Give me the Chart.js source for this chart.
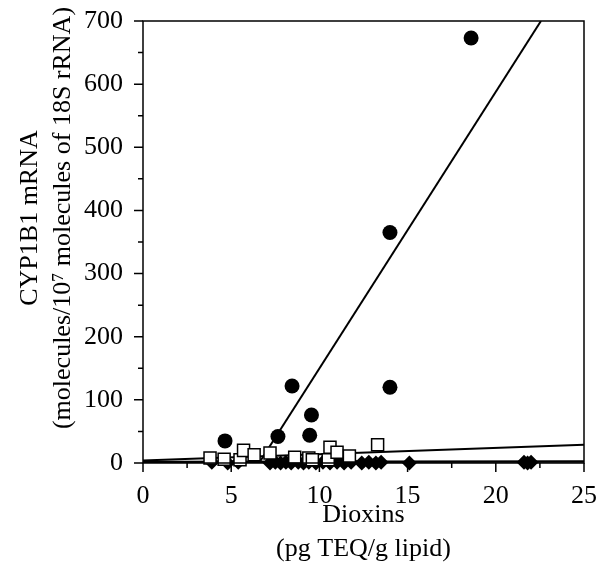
<!DOCTYPE html>
<html>
<head>
<meta charset="utf-8">
<script src="https://cdn.jsdelivr.net/npm/chart.js@4"></script>
<style>
  html, body { margin: 0; padding: 0; background: #fff; }
  canvas { display: block; }
</style>
</head>
<body>
<canvas id="cypChart" width="599" height="575"></canvas>
<script>
// filled circles
const circleX = [4.65, 7.65, 8.45, 9.45, 9.55, 14.0, 14.0, 18.6];
const circleY = [35, 42, 122, 44, 76, 120, 365, 673];
// open squares
const squareX = [3.8, 4.6, 5.5, 5.7, 6.3, 7.2, 8.6, 9.4, 9.6, 10.5, 10.6, 11.0, 11.7, 13.3];
const squareY = [8, 6, 5, 20, 13, 16, 9, 8, 5, 5, 25, 17, 11, 29];
// filled diamonds
const diamondX = [3.9, 4.8, 5.4, 7.2, 7.5, 7.8, 8.1, 8.4, 8.8, 9.1, 9.4, 9.8, 10.2, 10.6, 11.0, 11.4, 11.8, 12.4, 12.8, 13.2, 13.5, 15.1, 21.6, 21.8, 22.0];
const diamondY = [1, 0, 1, 0, 1, 0, 1, 0, 1, 0, 1, 0, 1, 0, 1, 0, 1, 0, 1, 0, 1, 0, 1, 0, 1];
// regression lines (end points)
const circleFitX = [6.58, 22.56];
const circleFitY = [0, 700];
const squareFitX = [0, 25];
const squareFitY = [4, 29];
const diamondFitX = [0, 25];
const diamondFitY = [1.5, 2.5];
// axis ticks
const xMajorTicks = [0, 5, 10, 15, 20, 25];
const xMinorTicks = [2.5, 7.5, 12.5, 17.5, 22.5];
const yMajorTicks = [0, 100, 200, 300, 400, 500, 600, 700];
const yMinorTicks = [50, 150, 250, 350, 450, 550, 650];
const yTitle = ['CYP1B1 mRNA', '(molecules/10\u2077 molecules of 18S rRNA)'];
const xTitle = ['Dioxins', '(pg TEQ/g lipid)'];

function pts(xs, ys) {
    return xs.map((x, i) => ({ x: x, y: ys[i] }));
}

const serif = '"Liberation Serif", "Times New Roman", serif';

// frame, outward tick marks and the rotated y title
const frameTicks = {
    id: 'frameTicks',
    afterDatasetsDraw(chart) {
        const ctx = chart.ctx;
        const a = chart.chartArea;
        const xs = chart.scales.x, ys = chart.scales.y;
        ctx.save();
        ctx.strokeStyle = '#000';
        ctx.lineWidth = 1.5;
        ctx.strokeRect(a.left, a.top, a.right - a.left, a.bottom - a.top);
        ctx.beginPath();
        yMajorTicks.forEach(v => { const p = ys.getPixelForValue(v); ctx.moveTo(a.left - 9, p); ctx.lineTo(a.left, p); });
        yMinorTicks.forEach(v => { const p = ys.getPixelForValue(v); ctx.moveTo(a.left - 5, p); ctx.lineTo(a.left, p); });
        xMajorTicks.forEach(v => { const p = xs.getPixelForValue(v); ctx.moveTo(p, a.bottom); ctx.lineTo(p, a.bottom + 9); });
        xMinorTicks.forEach(v => { const p = xs.getPixelForValue(v); ctx.moveTo(p, a.bottom); ctx.lineTo(p, a.bottom + 5); });
        ctx.stroke();

        ctx.fillStyle = '#000';
        ctx.font = '26px ' + serif;
        ctx.textAlign = 'center';
        ctx.textBaseline = 'middle';
        yTitle.forEach((line, i) => {
            ctx.save();
            ctx.translate(30 + i * 33, 218);
            ctx.rotate(-Math.PI / 2);
            ctx.fillText(line, 0, 0);
            ctx.restore();
        });
        ctx.restore();
    }
};

function draw() {
    new Chart(document.getElementById('cypChart').getContext('2d'), {
        type: 'scatter',
        data: {
            datasets: [
                { data: pts(circleX, circleY), pointStyle: 'circle', pointRadius: 7.5, backgroundColor: '#000', borderWidth: 0, clip: false },
                { data: pts(squareX, squareY), pointStyle: 'rect', pointRadius: 8.5, backgroundColor: '#fff', borderColor: '#000', borderWidth: 1.5, clip: false },
                { data: pts(diamondX, diamondY), pointStyle: 'rectRot', pointRadius: 7.5, backgroundColor: '#000', borderColor: '#000', borderWidth: 0, clip: false },
                { data: pts(circleFitX, circleFitY), showLine: true, pointRadius: 0, borderColor: '#000', borderWidth: 2 },
                { data: pts(squareFitX, squareFitY), showLine: true, pointRadius: 0, borderColor: '#000', borderWidth: 2 },
                { data: pts(diamondFitX, diamondFitY), showLine: true, pointRadius: 0, borderColor: '#000', borderWidth: 2.5 }
            ]
        },
        options: {
            responsive: false,
            animation: false,
            devicePixelRatio: 1,
            layout: { padding: { left: 0, top: 21, right: 15, bottom: 0 } },
            plugins: { legend: { display: false }, tooltip: { enabled: false } },
            scales: {
                x: {
                    type: 'linear', min: 0, max: 25,
                    afterFit: s => { s.height = 112; s.paddingLeft = 0; s.paddingRight = 0; },
                    afterBuildTicks: s => { s.ticks = xMajorTicks.map(v => ({ value: v })); },
                    grid: { display: false, drawTicks: false },
                    border: { display: false },
                    ticks: { color: '#000', padding: 18, font: { family: serif, size: 26 } },
                    title: {
                        display: true, text: xTitle, color: '#000',
                        padding: { top: 0, bottom: 9 },
                        font: { family: serif, size: 26, lineHeight: 1.3 }
                    }
                },
                y: {
                    type: 'linear', min: 0, max: 700,
                    afterFit: s => { s.width = 143; s.paddingTop = 0; s.paddingBottom = 0; },
                    afterBuildTicks: s => { s.ticks = yMajorTicks.map(v => ({ value: v })); },
                    grid: { display: false, drawTicks: false },
                    border: { display: false },
                    ticks: { color: '#000', padding: 20, font: { family: serif, size: 26 } },
                    title: { display: false }
                }
            }
        },
        plugins: [frameTicks]
    });
}

document.fonts.load('26px "Liberation Serif"').then(draw, draw);
</script>
</body>
</html>
